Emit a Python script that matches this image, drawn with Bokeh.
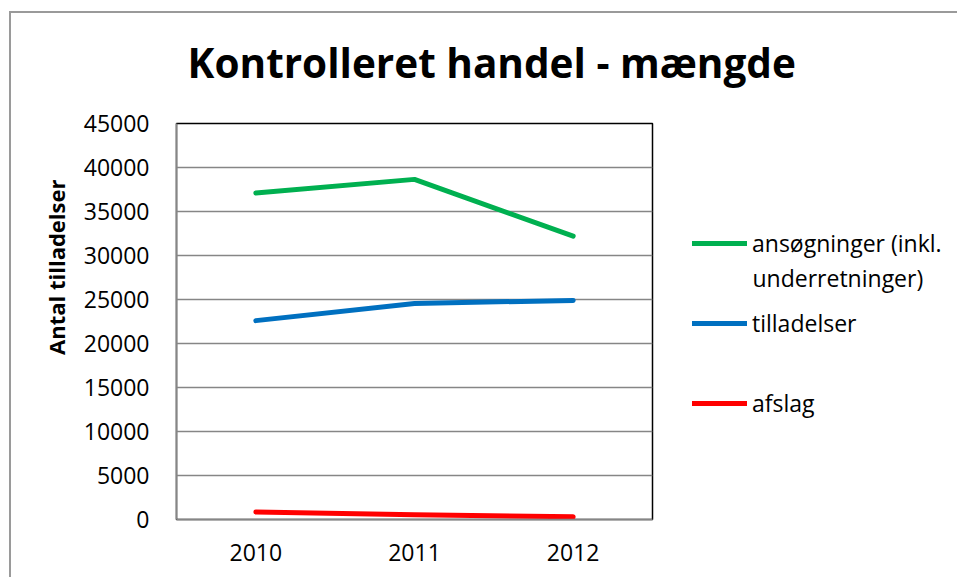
from bokeh.plotting import figure
from bokeh.layouts import column, row
from bokeh.models import (FactorRange, Range1d, FixedTicker, Legend, LegendItem,
                          Title, Label)
from bokeh.embed import file_html
from bokeh.resources import INLINE

# ---- data ----
years = ["2010", "2011", "2012"]
ansogninger = [37100, 38650, 32200]
tilladelser = [22600, 24550, 24900]
afslag = [850, 550, 300]
y_ticks = [0, 5000, 10000, 15000, 20000, 25000, 30000, 35000, 40000, 45000]

title_text = "Kontrolleret  handel - mængde"
y_label_text = "Antal tilladelser"
legend_labels = ["ansøgninger (inkl.", "tilladelser", "afslag"]
legend_extra = "underretninger)"
colors = ["#00B050", "#0070C0", "#FF0000"]
series = [ansogninger, tilladelser, afslag]

FONT = "Open Sans"
GRID = "#868686"


def blank_fig(w, h, x_range, y_range):
    f = figure(width=w, height=h, x_range=x_range, y_range=y_range,
               x_axis_type=None, y_axis_type=None,
               output_backend="svg", toolbar_location=None,
               min_border_left=0, min_border_right=0,
               min_border_top=0, min_border_bottom=0)
    f.outline_line_color = None
    f.grid.visible = False
    f.background_fill_color = "white"
    f.border_fill_color = "white"
    return f


# ---- title strip ----
top = blank_fig(946, 95, Range1d(0, 1), Range1d(0, 1))
top.add_layout(Label(x=485.5, y=46.5, x_units="screen", y_units="screen",
                     text=title_text, text_font=FONT, text_font_size="40.5px",
                     text_font_style="bold", text_color="black",
                     text_align="center", text_baseline="middle"))

# ---- main chart ----
p = figure(
    x_range=FactorRange(*years, range_padding=0),
    y_range=Range1d(0, 45000),
    width=643, height=469,
    output_backend="svg", toolbar_location=None,
    min_border_left=165, min_border_right=2,
    min_border_top=15, min_border_bottom=58,
)
p.background_fill_color = "white"
p.border_fill_color = "white"
p.outline_line_color = "black"
p.outline_line_width = 1.5

p.xgrid.grid_line_color = None
p.ygrid.grid_line_color = GRID
p.ygrid.grid_line_width = 1.3

p.yaxis.ticker = FixedTicker(ticks=y_ticks)
p.yaxis.axis_line_color = GRID
p.yaxis.axis_line_width = 1.5
p.yaxis.major_tick_out = 0
p.yaxis.major_tick_in = 0
p.yaxis.minor_tick_out = 0
p.yaxis.minor_tick_in = 0
p.yaxis.major_label_standoff = 27
p.yaxis.major_label_text_font = FONT
p.yaxis.major_label_text_font_size = "23px"
p.yaxis.major_label_text_color = "black"

p.xaxis.axis_line_color = GRID
p.xaxis.axis_line_width = 1.5
p.xaxis.major_tick_out = 0
p.xaxis.major_tick_in = 0
p.xaxis.major_label_standoff = 24
p.xaxis.major_label_text_font = FONT
p.xaxis.major_label_text_font_size = "23px"
p.xaxis.major_label_text_color = "black"

p.add_layout(Title(text=y_label_text, align="right", offset=56, standoff=20,
                   text_font=FONT, text_font_size="22px", text_font_style="bold",
                   text_color="black"), "left")

for vals, c in zip(series, colors):
    p.line(years, vals, line_color=c, line_width=5, line_cap="round", line_join="round")

# ---- legend strip (frame is aligned with the chart frame by the row) ----
leg = blank_fig(303, 469, FactorRange(*years), Range1d(0, 45000))
items = []
for lab, vals, c in zip(legend_labels, series, colors):
    r = leg.line(years, vals, line_color=c, line_width=5, line_cap="round", visible=False)
    items.append(LegendItem(label=lab, renderers=[r]))
legend = Legend(
    items=items, location=(38, 76),
    glyph_width=55, glyph_height=80, label_height=80,
    label_standoff=5, spacing=0, padding=0, margin=0,
    border_line_color=None, background_fill_alpha=0, inactive_fill_alpha=0,
    click_policy="none",
    label_text_font=FONT, label_text_font_size="23px", label_text_color="black",
)
leg.add_layout(legend)
leg.add_layout(Label(x=98, y=242, x_units="screen", y_units="screen",
                     text=legend_extra, text_font=FONT, text_font_size="23px",
                     text_color="black", text_align="left", text_baseline="middle"))

layout = column(top, row(p, leg, spacing=0), spacing=0)
layout.styles = {
    "margin-left": "9px", "margin-top": "11px",
    "border-left": "2px solid #9a9a9a", "border-top": "2px solid #9a9a9a",
}

open("out.html", "w").write(file_html(layout, INLINE))
